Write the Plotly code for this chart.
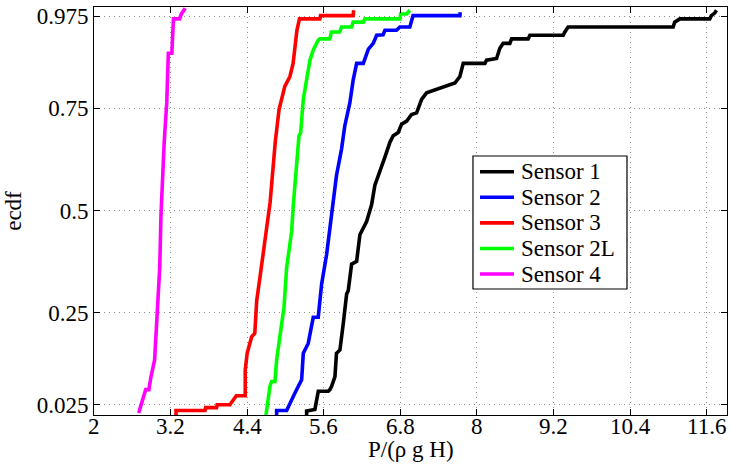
import plotly.graph_objects as go

# Values (step ECDF vertices)
s1_x = [5.332, 5.332, 5.462, 5.489, 5.515, 5.671, 5.697, 5.724, 5.776, 5.80, 5.854, 5.906, 5.959, 5.984, 6.037,
        6.116, 6.167, 6.272, 6.35, 6.402, 6.48, 6.559, 6.637, 6.689, 6.767, 6.82, 6.90, 6.977, 7.056, 7.134,
        7.212, 7.369, 7.526, 7.656, 7.734, 7.786, 8.126, 8.152, 8.309, 8.36, 8.412, 8.517, 8.544, 8.804, 8.831,
        9.353, 9.379, 9.43, 11.076, 11.10, 11.18, 11.65, 11.675, 11.727, 11.755]
s1_y = [0.0, 0.01, 0.0136, 0.038, 0.058, 0.058, 0.062, 0.07, 0.094, 0.151, 0.159, 0.223, 0.296, 0.304, 0.369,
        0.376, 0.441, 0.473, 0.514, 0.562, 0.594, 0.631, 0.667, 0.683, 0.691, 0.711, 0.719, 0.735, 0.739, 0.772,
        0.788, 0.796, 0.804, 0.812, 0.828, 0.86, 0.86, 0.868, 0.872, 0.897, 0.909, 0.909, 0.92, 0.92, 0.929,
        0.929, 0.937, 0.949, 0.949, 0.961, 0.969, 0.969, 0.977, 0.983, 0.99]

s2_x = [4.862, 4.862, 5.019, 5.07, 5.149, 5.254, 5.28, 5.357, 5.436, 5.514, 5.567, 5.646, 5.724, 5.80, 5.88,
        5.93, 6.01, 6.062, 6.116, 6.22, 6.30, 6.376, 6.43, 6.53, 6.56, 6.74, 6.794, 6.95, 7.00, 7.734, 7.74]
s2_y = [0.0, 0.011, 0.011, 0.030, 0.054, 0.086, 0.151, 0.175, 0.239, 0.239, 0.32, 0.393, 0.497, 0.586, 0.651,
        0.707, 0.764, 0.82, 0.86, 0.86, 0.895, 0.909, 0.929, 0.93, 0.941, 0.941, 0.949, 0.949, 0.977, 0.977, 0.985]

s3_x = [3.285, 3.285, 3.74, 3.75, 3.92, 3.93, 4.13, 4.18, 4.23, 4.37, 4.37, 4.40, 4.47, 4.52, 4.55,
        4.60, 4.68, 4.72, 4.76, 4.84, 4.90, 4.99, 5.07, 5.12, 5.18, 5.22, 5.54, 5.55, 6.06, 6.07]
s3_y = [0.0, 0.011, 0.011, 0.018, 0.018, 0.025, 0.025, 0.038, 0.047, 0.047, 0.11, 0.151, 0.191, 0.2, 0.28,
        0.336, 0.433, 0.48, 0.52, 0.667, 0.747, 0.804, 0.828, 0.860, 0.941, 0.969, 0.969, 0.977, 0.977, 0.99]

s2l_x = [4.695, 4.757, 4.784, 4.836, 4.862, 4.914, 4.977, 5.019, 5.06, 5.097, 5.122, 5.176, 5.212, 5.238, 5.28,
         5.34, 5.385, 5.436, 5.514, 5.54, 5.697, 5.72, 5.85, 5.88, 6.037, 6.06, 6.22, 6.245, 6.794, 6.805,
         6.90, 6.95]
s2l_y = [0.0, 0.07, 0.082, 0.082, 0.135, 0.199, 0.263, 0.36, 0.417, 0.449, 0.51, 0.626, 0.683, 0.69, 0.772,
         0.828, 0.868, 0.893, 0.917, 0.92, 0.92, 0.937, 0.937, 0.949, 0.949, 0.961, 0.961, 0.969, 0.969, 0.981,
         0.981, 0.99]

s4_x = [2.70, 2.75, 2.81, 2.86, 2.89, 2.95, 2.98, 3.01, 3.03, 3.05, 3.10, 3.14, 3.165, 3.22, 3.245,
        3.34, 3.37, 3.43]
s4_y = [0.005, 0.03, 0.062, 0.062, 0.091, 0.135, 0.239, 0.304, 0.36, 0.49, 0.667, 0.764, 0.885, 0.885, 0.969,
        0.969, 0.981, 0.995]

series_names = ["Sensor 1", "Sensor 2", "Sensor 3", "Sensor 2L", "Sensor 4"]
series_colors = ["#000000", "#0000ff", "#ff0000", "#00ff00", "#ff00ff"]
series_x = [s1_x, s2_x, s3_x, s2l_x, s4_x]
series_y = [s1_y, s2_y, s3_y, s2l_y, s4_y]

x_ticks = [2, 3.2, 4.4, 5.6, 6.8, 8, 9.2, 10.4, 11.6]
x_tick_labels = ["2", "3.2", "4.4", "5.6", "6.8", "8", "9.2", "10.4", "11.6"]
y_ticks = [0.025, 0.25, 0.5, 0.75, 0.975]
y_tick_labels = ["0.025", "0.25", "0.5", "0.75", "0.975"]

FONT = "Liberation Serif"
FS = 23

fig = go.Figure()
for name, color, xs, ys in zip(series_names, series_colors, series_x, series_y):
    fig.add_trace(go.Scatter(x=xs, y=ys, mode="lines", name=name, showlegend=False,
                             line=dict(color=color, width=3.6)))

axis_common = dict(
    showline=True, linecolor="black", linewidth=1, mirror="ticks",
    ticks="inside", ticklen=6, tickcolor="black",
    showgrid=True, gridcolor="#8c8c8c", griddash="1px,4px", gridwidth=1,
    zeroline=False, tickfont=dict(family=FONT, size=FS, color="black"),
)

# Legend box drawn in paper coordinates (MATLAB-style legend)
leg_x0, leg_x1 = 0.5987, 0.842
leg_y0, leg_y1 = 0.3088, 0.6348
row_top, row_step = 0.5963, 0.0627
shapes = [dict(type="rect", xref="paper", yref="paper", x0=leg_x0, x1=leg_x1, y0=leg_y0, y1=leg_y1,
               line=dict(color="black", width=1.2), fillcolor="white", layer="above")]
annotations = []
for i, (name, color) in enumerate(zip(series_names, series_colors)):
    yy = row_top - i * row_step
    shapes.append(dict(type="line", xref="paper", yref="paper", x0=0.6098, x1=0.6635, y0=yy, y1=yy,
                       line=dict(color=color, width=3.6), layer="above"))
    annotations.append(dict(x=0.6714, y=yy, xref="paper", yref="paper", text=name, showarrow=False,
                            xanchor="left", yanchor="middle",
                            font=dict(family=FONT, size=FS, color="black")))

# x tick labels placed through the x scale, close under the axis (as in the reference)
for tv, tt in zip(x_ticks, x_tick_labels):
    annotations.append(dict(x=tv, y=-0.029, xref="x", yref="paper", text=tt, showarrow=False,
                            xanchor="center", yanchor="middle", borderpad=0,
                            font=dict(family=FONT, size=FS, color="black")))

# x-axis title
annotations.append(dict(x=0.5, y=-0.085, xref="paper", yref="paper", text="P/(ρ g H)", showarrow=False,
                        xanchor="center", yanchor="middle", borderpad=0,
                        font=dict(family=FONT, size=FS, color="black")))

fig.update_layout(
    width=730, height=468,
    margin=dict(l=94, r=3, t=7, b=53),
    paper_bgcolor="white", plot_bgcolor="white",
    font=dict(family=FONT, size=FS, color="black"),
    xaxis=dict(range=[2, 11.92], tickvals=x_ticks, ticktext=x_tick_labels,
               showticklabels=False, **axis_common),
    yaxis=dict(range=[0, 0.998], tickvals=y_ticks, ticktext=y_tick_labels,
               title=dict(text="ecdf", font=dict(family=FONT, size=FS), standoff=8),
               **axis_common),
    shapes=shapes,
    annotations=annotations,
    showlegend=False,
)

fig.write_html("out.html")
